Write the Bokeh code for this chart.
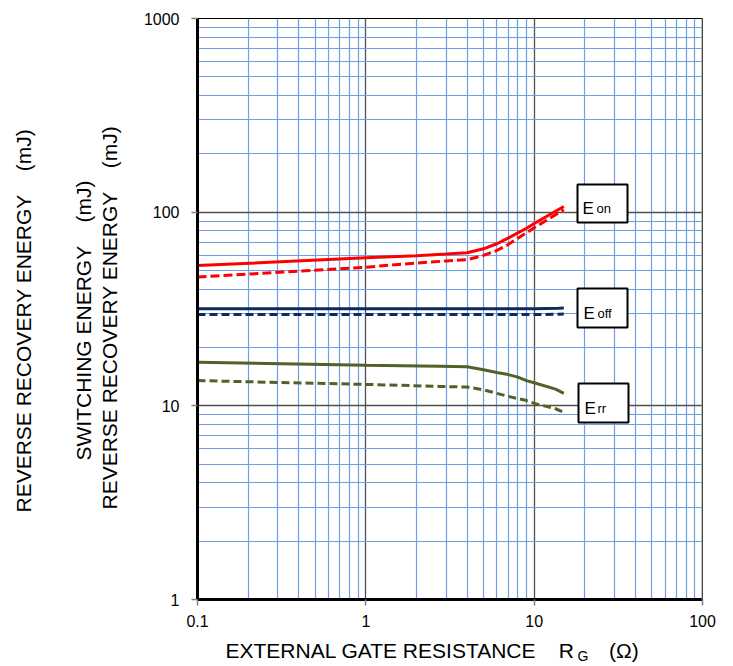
import math
from bokeh.plotting import figure
from bokeh.models import FixedTicker, Label, BoxAnnotation, Span, CustomJSTickFormatter, Title
from bokeh.embed import file_html
from bokeh.resources import INLINE

# ---- data ----
rg_on = [0.1, 1, 2, 3, 4, 5, 6, 7, 8, 9, 10, 15]
eon_a = [53.0, 58.1, 59.6, 60.8, 61.7, 64.7, 68.7, 73.5, 78.2, 82.6, 87.4, 107]
eon_b = [46.2, 52.0, 54.6, 56.0, 56.8, 59.8, 63.4, 68.0, 73.4, 78.2, 83.0, 103]

rg_off = [0.1, 1, 4, 10, 14, 15]
eoff_a = [31.7, 31.7, 31.7, 31.7, 31.9, 32.0]
eoff_b = [29.6, 29.6, 29.6, 29.6, 29.7, 29.8]

rg_rr = [0.1, 1, 2.74, 4, 5, 6, 7, 8, 9, 10, 13.4, 15]
err_a = [16.8, 16.2, 16.0, 15.9, 15.35, 14.85, 14.5, 14.06, 13.5, 13.15, 12.2, 11.6]
err_b = [13.5, 12.9, 12.6, 12.5, 12.1, 11.6, 11.2, 10.9, 10.65, 10.3, 9.66, 9.27]

x_major = [0.1, 1, 10, 100]
y_major = [1, 10, 100, 1000]
x_minor = [m * d for d in [0.1, 1, 10] for m in range(2, 10)]
y_minor = [m * d for d in [1, 10, 100] for m in range(2, 10)]

FONT = "Liberation Sans"
NB = "\u00a0"   # non-breaking space: wide gaps survive in SVG text

FL, FT, FW, FH = 197, 18, 505, 581   # frame left/top/width/height in page pixels

p = figure(frame_width=FW, frame_height=FH,
           x_axis_type="log", y_axis_type="log",
           x_range=(0.1, 100), y_range=(1, 1000),
           output_backend="svg", toolbar_location=None,
           min_border_left=FL, min_border_right=25,
           min_border_top=FT, min_border_bottom=67)

p.background_fill_color = "white"
p.border_fill_color = "white"
p.outline_line_color = "black"
p.outline_line_width = 1

fmt = CustomJSTickFormatter(code="return tick.toString()")
p.xaxis.ticker = FixedTicker(ticks=x_major, minor_ticks=x_minor)
p.yaxis.ticker = FixedTicker(ticks=y_major, minor_ticks=y_minor)
p.xaxis.formatter = fmt
p.yaxis.formatter = fmt

for ax in (p.xaxis, p.yaxis):
    ax.axis_line_color = "black"
    ax.axis_line_width = 3
    ax.major_tick_line_color = "#808080"
    ax.major_tick_line_width = 1.5
    ax.major_tick_out = 6
    ax.major_tick_in = 0
    ax.minor_tick_line_color = None
    ax.major_label_text_font = FONT
    ax.major_label_text_font_size = "16px"
    ax.major_label_text_color = "black"
    ax.axis_label_text_font = FONT
    ax.axis_label_text_font_size = "21px"
    ax.axis_label_text_font_style = "normal"
    ax.axis_label_text_color = "black"
p.yaxis.major_label_standoff = 12
p.xaxis.major_label_standoff = 9

# axis titles
p.xaxis.axis_label = "EXTERNAL GATE RESISTANCE" + NB * 4 + "R" + NB * 6 + "(\u03a9)" + NB * 6
p.xaxis.axis_label_standoff = 9
p.yaxis.axis_label = "REVERSE RECOVERY ENERGY" + NB * 4 + "(mJ)" + NB * 3
p.yaxis.axis_label_standoff = 20

def ytitle(text, offset, standoff):
    t = Title(text=text, align="left", offset=offset, standoff=standoff,
              text_font=FONT, text_font_size="21px", text_font_style="normal",
              text_color="black")
    p.add_layout(t, "left")

ytitle("SWITCHING ENERGY" + NB * 4 + "(mJ)", 139, 0)
ytitle(NB, 0, 10)   # spacer
ytitle("REVERSE RECOVERY ENERGY" + NB * 4 + "(mJ)", 87, 0)

for g in (p.xgrid, p.ygrid):
    g.grid_line_color = "#505050"
    g.grid_line_width = 1.3
    g.minor_grid_line_color = "#6E9FE2"
    g.minor_grid_line_width = 1.2

p.add_layout(Span(location=100, dimension="height", line_color="#888888", line_width=2))

RED = "#FF0000"
NAVY = "#0E2A5E"
OLIVE = "#4F6228"

p.line(rg_on, eon_a, line_color=RED, line_width=3)
p.line(rg_on, eon_b, line_color=RED, line_width=3, line_dash="9 4")
p.line(rg_off, eoff_a, line_color=NAVY, line_width=3)
p.line(rg_off, eoff_b, line_color=NAVY, line_width=3, line_dash="8 4")
p.line(rg_rr, err_a, line_color=OLIVE, line_width=3)
p.line(rg_rr, err_b, line_color=OLIVE, line_width=3, line_dash="8 4")

# ---- labelled boxes (screen units relative to the frame) ----
boxes = [  # left, right, bottom, top, sub, E-x, sub-x, baseline
    (380, 430, 377, 415, "on", 385, 399, 391),
    (380, 430, 272, 311, "off", 386, 400, 286),
    (381, 431, 177, 216, "rr", 387, 400, 191),
]
for l, r, b, t, sub, ex, sx, bl in boxes:
    p.add_layout(BoxAnnotation(left=l, right=r, bottom=b, top=t,
                               left_units="screen", right_units="screen",
                               bottom_units="screen", top_units="screen",
                               fill_color="white", fill_alpha=1.0,
                               line_color="black", line_width=2, line_alpha=1.0))
    p.add_layout(Label(x=ex, y=bl, x_units="screen", y_units="screen", text="E",
                       text_font=FONT, text_font_size="17px", text_baseline="alphabetic",
                       text_align="left", text_color="black"))
    p.add_layout(Label(x=sx, y=bl, x_units="screen", y_units="screen", text=sub,
                       text_font=FONT, text_font_size="13px", text_baseline="alphabetic",
                       text_align="left", text_color="black"))

# subscript G of R_G (placed in a side panel so that it is not clipped)
def px_to_x(px):
    return 10 ** (-1 + (px - FL) / (FW / 3))

def py_to_y(py):
    return 10 ** ((FT + FH - py) / (FH / 3))

p.add_layout(Label(x=px_to_x(577), y=py_to_y(655), text="G",
                   text_font=FONT, text_font_size="14px", text_baseline="alphabetic",
                   text_align="left", text_color="black"), "right")

open("out.html", "w").write(file_html(p, INLINE))
